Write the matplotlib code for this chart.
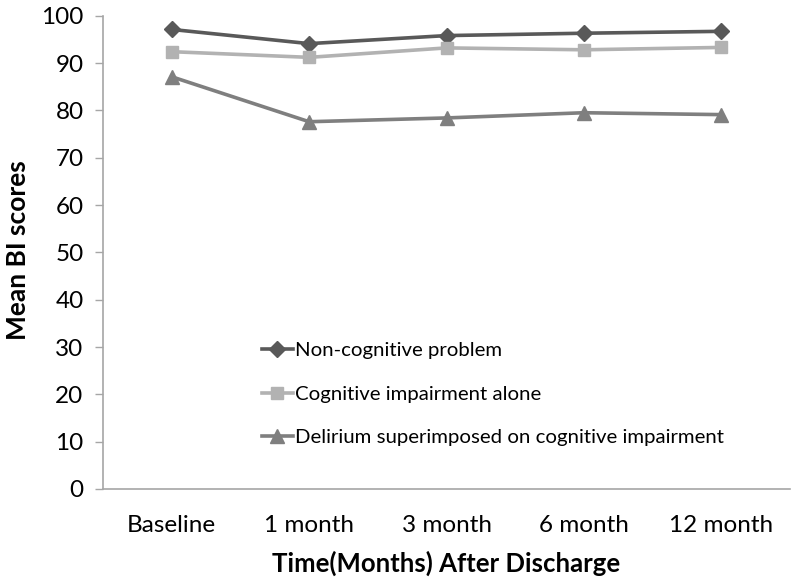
import matplotlib
matplotlib.use("Agg")
import matplotlib.pyplot as plt

# data
time_points = ["Baseline", "1 month", "3 month", "6 month", "12 month"]
non_cognitive = [97.1, 94.1, 95.8, 96.3, 96.7]
cognitive_alone = [92.4, 91.2, 93.2, 92.8, 93.3]
delirium_on_ci = [87.1, 77.6, 78.4, 79.5, 79.1]
series_names = ["Non-cognitive problem",
                "Cognitive impairment alone",
                "Delirium superimposed on cognitive impairment"]
y_ticks = list(range(0, 101, 10))

plt.rcParams['font.family'] = ['Lato', 'DejaVu Sans']

fig = plt.figure(figsize=(7.96, 5.84), dpi=100)
ax = fig.add_axes([0.1294, 0.1627, 0.8631, 0.8104])

x = range(len(time_points))
ax.plot(x, non_cognitive, color="#595959", lw=2.6, marker="D", ms=8,
        label=series_names[0])
ax.plot(x, cognitive_alone, color="#b2b2b2", lw=2.6, marker="s", ms=8,
        label=series_names[1])
ax.plot(x, delirium_on_ci, color="#7f7f7f", lw=2.6, marker="^", ms=9.5,
        label=series_names[2])

ax.set_xlim(-0.5, len(time_points) - 0.5)
ax.set_ylim(0, 100)
ax.set_xticks(list(x))
ax.set_xticklabels(time_points, fontsize=17.5)
ax.set_yticks(y_ticks)
ax.tick_params(axis="y", labelsize=17.5, length=6, width=1, color="#a6a6a6",
               direction="out", pad=8)
ax.tick_params(axis="x", length=0, pad=19)

for side in ["top", "right"]:
    ax.spines[side].set_visible(False)
for side in ["left", "bottom"]:
    ax.spines[side].set_color("#a6a6a6")
    ax.spines[side].set_linewidth(1.2)

ax.set_ylabel("Mean BI scores", fontsize=19, fontweight="bold")
ax.yaxis.set_label_coords(-0.106, 0.505)
ax.set_xlabel("Time(Months) After Discharge", fontsize=18.5, fontweight="bold")
ax.xaxis.set_label_coords(0.5, -0.13)

fig.legend(loc="center left", bbox_to_anchor=(262 / 796, 1 - 394 / 584),
           frameon=False, fontsize=14.7, handlelength=1.5, handletextpad=0.1,
           labelspacing=1.27, borderpad=0, borderaxespad=0)

fig.savefig("out.png", dpi=100)
